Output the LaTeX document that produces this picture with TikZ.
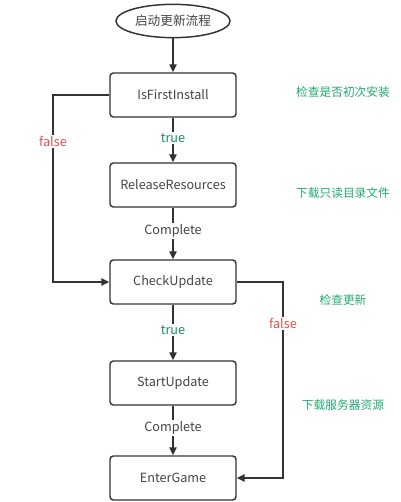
\documentclass[tikz,border=0pt]{standalone}
\usepackage{fontspec}
\setmainfont{Noto Sans CJK SC}
\newfontfamily\cjk{Noto Sans CJK SC}
\usetikzlibrary{arrows.meta,shapes.geometric}
\definecolor{lineg}{HTML}{333333}
\definecolor{txtg}{HTML}{444444}
\definecolor{notegreen}{HTML}{22AA6E}
\definecolor{truegreen}{HTML}{1E8C5C}
\definecolor{falsered}{HTML}{E2524C}
\tikzset{
  px/.style={x=0.75pt,y=-0.75pt},
  procbox/.style={draw=lineg,line width=1.1pt,rounded corners=2.5pt,minimum width=94.5pt,minimum height=33pt,inner sep=0pt,text=txtg,font=\fontsize{9.5}{11}\selectfont},
  startnode/.style={draw=lineg,line width=1.1pt,ellipse,minimum width=85.5pt,minimum height=25pt,inner sep=0pt,text=txtg,font=\fontsize{9.5}{11}\selectfont},
  conn/.style={draw=lineg,line width=1.1pt,-{Triangle[length=6pt,width=5.5pt]}},
  note/.style={text=notegreen,font=\fontsize{8.8}{10}\selectfont},
  lbltrue/.style={text=truegreen,fill=white,inner sep=1pt,font=\fontsize{9.5}{11}\selectfont},
  lblfalse/.style={text=falsered,fill=white,inner sep=1pt,font=\fontsize{9.5}{11}\selectfont},
  lblcomp/.style={text=txtg,fill=white,inner sep=1pt,font=\fontsize{9.5}{11}\selectfont},
}
\begin{document}
\begin{tikzpicture}[px]
\useasboundingbox (0,0) rectangle (400,502);
\node[startnode] (start) at (173,21) {启动更新流程};
\node[procbox] (first) at (173,95) {IsFirstInstall};
\node[procbox] (release) at (173,185) {ReleaseResources};
\node[procbox] (check) at (173,282) {CheckUpdate};
\node[procbox] (startup) at (173,383) {StartUpdate};
\node[procbox] (enter) at (173,478) {EnterGame};
\coordinate (lt) at (53,95);
\coordinate (lb) at (53,282);
\coordinate (rt) at (283,282);
\coordinate (rb) at (283,478);
\draw[conn] (start) -- (first);
\draw[conn] (first) -- node[lbltrue,pos=0.45] {true} (release);
\draw[conn] (release) -- node[lblcomp,pos=0.45] {Complete} (check);
\draw[conn] (check) -- node[lbltrue,pos=0.45] {true} (startup);
\draw[conn] (startup) -- node[lblcomp,pos=0.45] {Complete} (enter);
\draw[conn] (first.west) -- (lt) -- node[lblfalse,pos=0.25] {false} (lb) -- (check.west);
\draw[conn] (check.east) -- (rt) -- node[lblfalse,pos=0.21] {false} (rb) -- (enter.east);
\node[note] (n1) at (343,92) {检查是否初次安装};
\node[note] (n2) at (343,193) {下载只读目录文件};
\node[note] (n3) at (343,300) {检查更新};
\node[note] (n4) at (343,405) {下载服务器资源};
\end{tikzpicture}
\end{document}
